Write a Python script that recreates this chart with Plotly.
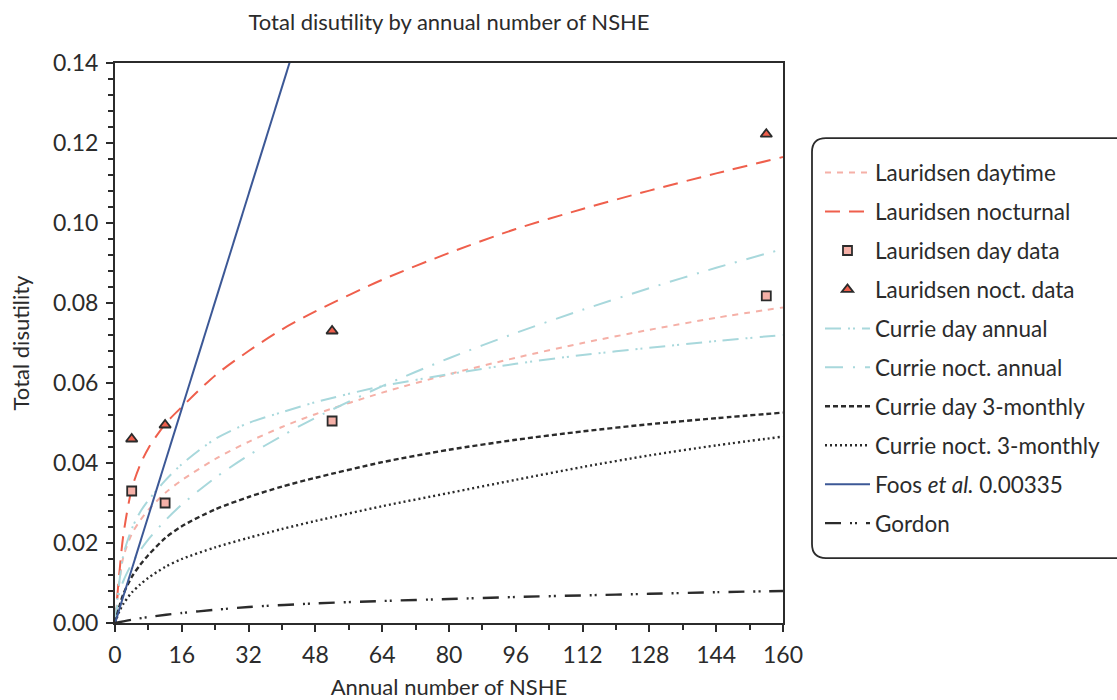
import plotly.graph_objects as go

# Annual number of non-severe hypoglycaemic events (NSHE) at which each curve is sampled
nshe = [0, 1, 2, 4, 6, 8, 12, 16, 24, 32, 40, 48, 64, 80, 96, 112, 128, 144, 160]

lauridsen_day = [0, 0.010, 0.0165, 0.0222, 0.0256, 0.0283, 0.0325, 0.0357, 0.0410, 0.0453,
                 0.0490, 0.0522, 0.0576, 0.0622, 0.0663, 0.0700, 0.0733, 0.0763, 0.0789]
lauridsen_noct = [0, 0.012, 0.022, 0.0335, 0.0395, 0.0437, 0.0497, 0.0540, 0.0619, 0.0680,
                  0.0734, 0.0779, 0.0858, 0.0925, 0.0985, 0.1035, 0.1081, 0.1124, 0.1165]
currie_day_annual = [0, 0.010, 0.017, 0.0235, 0.0277, 0.0307, 0.0356, 0.0397, 0.0460, 0.0500,
                     0.0527, 0.0552, 0.0592, 0.0622, 0.0648, 0.0670, 0.0688, 0.0705, 0.0720]
currie_noct_annual = [0, 0.0074, 0.0105, 0.0148, 0.0181, 0.0209, 0.0256, 0.0296, 0.0363, 0.0419,
                      0.0468, 0.0513, 0.0592, 0.0662, 0.0725, 0.0783, 0.0837, 0.0888, 0.0935]
currie_day_3m = [0, 0.0040, 0.0072, 0.0115, 0.0145, 0.0170, 0.0212, 0.0242, 0.0284, 0.0315,
                 0.0341, 0.0363, 0.0402, 0.0433, 0.0458, 0.0479, 0.0497, 0.0512, 0.0526]
currie_noct_3m = [0, 0.0028, 0.0048, 0.0076, 0.0096, 0.0113, 0.0140, 0.0160, 0.0189, 0.0213,
                  0.0235, 0.0255, 0.0292, 0.0325, 0.0358, 0.0390, 0.0419, 0.0444, 0.0466]

gordon_x = [0, 4, 8, 16, 24, 32, 48, 64, 80, 96, 112, 128, 144, 160]
gordon = [0, 0.0008, 0.0015, 0.0025, 0.0033, 0.0040, 0.0049, 0.0055, 0.0060, 0.0065,
          0.0069, 0.0073, 0.0077, 0.0080]

# Foos et al. constant disutility per event
foos_slope = 0.00335
foos_x = [0, 160]
foos = [foos_slope * v for v in foos_x]

# Observed Lauridsen data points
data_x = [4, 12, 52, 156]
lauridsen_day_data = [0.033, 0.030, 0.0505, 0.0818]
lauridsen_noct_data = [0.046, 0.0495, 0.073, 0.1222]

x_ticks = [0, 16, 32, 48, 64, 80, 96, 112, 128, 144, 160]
y_ticks = [0.00, 0.02, 0.04, 0.06, 0.08, 0.10, 0.12, 0.14]

FONT = "Lato"
DARK = "#2b2b2b"
RED = "#ef5f4c"
PINK = "#f5b0a7"
TEAL = "#a8d8dc"
BLUE = "#3c5896"

fig = go.Figure()


def add_line(x, y, name, color, dash, rank, width=2):
    fig.add_trace(go.Scatter(
        x=x, y=y, mode="lines", name=name, legendgroup=name, legendrank=rank,
        line=dict(color=color, dash=dash, width=width, shape="spline", smoothing=0.8),
        hoverinfo="skip",
    ))


add_line(nshe, lauridsen_day, "Lauridsen daytime", PINK, "6px,6px", 1)
add_line(nshe, lauridsen_noct, "Lauridsen nocturnal", RED, "15px,9px", 2)
add_line(nshe, currie_day_annual, "Currie day annual", TEAL, "16px,7px,2px,3px,2px,7px", 5)
add_line(nshe, currie_noct_annual, "Currie noct. annual", TEAL, "18px,10px,2px,10px", 6)
add_line(nshe, currie_day_3m, "Currie day 3-monthly", DARK, "5px,3px", 7, width=2.4)
add_line(nshe, currie_noct_3m, "Currie noct. 3-monthly", DARK, "2px,3px", 8, width=2.4)
fig.add_trace(go.Scatter(
    x=foos_x, y=foos, mode="lines", name="Foos <i>et al.</i> 0.00335",
    legendgroup="foos", legendrank=9, line=dict(color=BLUE, width=2), hoverinfo="skip",
))
add_line(gordon_x, gordon, "Gordon", DARK, "16px,9px,2px,3px,2px,9px", 10, width=2.4)

fig.add_trace(go.Scatter(
    x=data_x, y=lauridsen_day_data, mode="markers", name="Lauridsen day data",
    legendgroup="daydata", legendrank=3,
    marker=dict(symbol="square", size=9, color=PINK, line=dict(color=DARK, width=1.8)),
))
fig.add_trace(go.Scatter(
    x=data_x, y=lauridsen_noct_data, mode="markers", name="Lauridsen noct. data",
    legendgroup="noctdata", legendrank=4,
    marker=dict(symbol="triangle-up", size=10, color=RED, line=dict(color=DARK, width=1.8)),
))

# Rounded frame drawn around the legend, running off the right edge
x0, x1 = 1.0434, 1.55
y0, y1 = 0.116, 0.866
rx, ry = 14 / 668, 14 / 560
frame = (f"M {x0 + rx},{y1} L {x1},{y1} L {x1},{y0} L {x0 + rx},{y0} "
         f"Q {x0},{y0} {x0},{y0 + ry} L {x0},{y1 - ry} Q {x0},{y1} {x0 + rx},{y1} Z")

axis_common = dict(
    showline=True, linecolor=DARK, linewidth=2, mirror=True,
    ticks="outside", ticklen=7, tickwidth=2, tickcolor=DARK,
    ticklabelstandoff=3,
    showgrid=False, zeroline=False,
    tickfont=dict(family=FONT, size=23, color=DARK),
)

fig.update_layout(
    width=1117, height=700,
    margin=dict(l=115, r=334, t=63, b=77, autoexpand=False),
    paper_bgcolor="white", plot_bgcolor="white",
    font=dict(family=FONT, color=DARK),
    title=dict(text="Total disutility by annual number of NSHE", x=0.402, xanchor="center",
               y=0.968, yanchor="middle", font=dict(family=FONT, size=22, color=DARK)),
    xaxis=dict(range=[0, 160], tickvals=x_ticks, ticktext=[str(v) for v in x_ticks],
               minor=dict(dtick=8, ticks="outside", ticklen=5, tickwidth=1.5, tickcolor=DARK),
               title=dict(text="Annual number of NSHE", font=dict(family=FONT, size=22), standoff=13),
               **axis_common),
    yaxis=dict(range=[0, 0.14], tickvals=y_ticks, ticktext=[f"{v:.2f}" for v in y_ticks],
               minor=dict(dtick=0.004, tick0=0, ticks="outside", ticklen=5, tickwidth=1.5, tickcolor=DARK),
               title=dict(text="Total disutility", font=dict(family=FONT, size=22), standoff=17),
               **axis_common),
    legend=dict(x=1.0434 + 8 / 668, xanchor="left", y=0.842, yanchor="top",
                font=dict(family=FONT, size=22.5, color=DARK),
                itemwidth=45, tracegroupgap=6.7, bgcolor="rgba(0,0,0,0)", borderwidth=0),
    shapes=[dict(type="path", path=frame, xref="paper", yref="paper",
                 line=dict(color=DARK, width=1.8), fillcolor="rgba(0,0,0,0)")],
    showlegend=True,
)

fig.write_html("out.html")
